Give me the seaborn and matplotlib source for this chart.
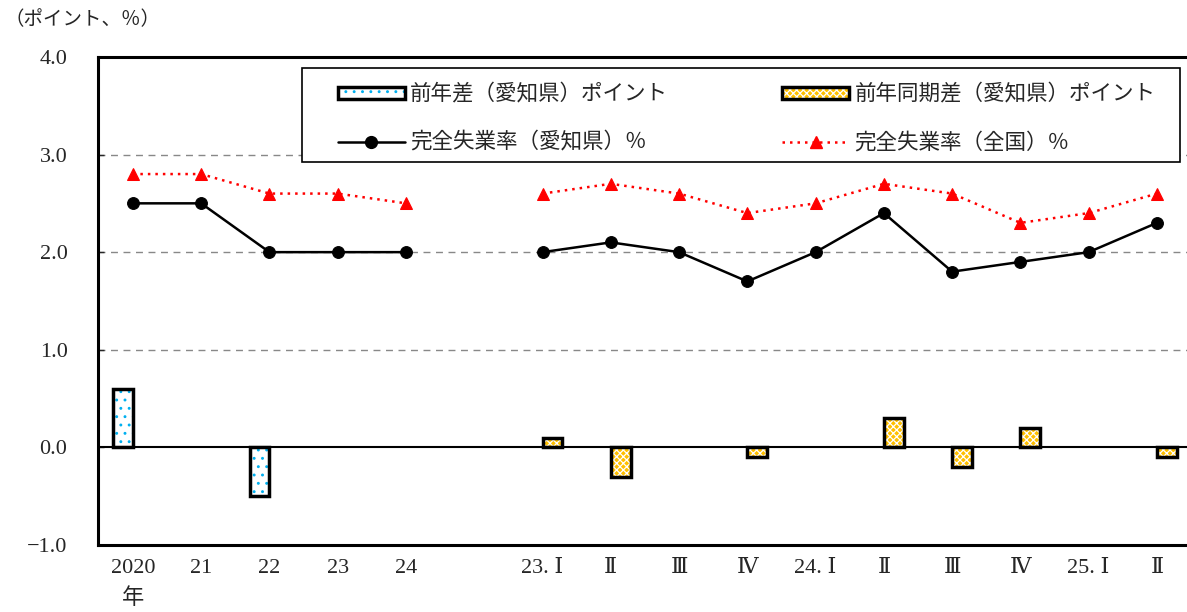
import numpy as np
import pandas as pd
import seaborn as sns
import matplotlib.pyplot as plt
from matplotlib.patches import Patch, Rectangle
from matplotlib.lines import Line2D

# slots: 0-4 annual, 5 empty, 6-15 quarterly
tick_labels = ['2020\n年', '21', '22', '23', '24', '',
               '23. Ⅰ', 'Ⅱ', 'Ⅲ', 'Ⅳ', '24. Ⅰ', 'Ⅱ', 'Ⅲ', 'Ⅳ', '25. Ⅰ', 'Ⅱ']
annual_pos = [0, 1, 2, 3, 4]
quarter_pos = [6, 7, 8, 9, 10, 11, 12, 13, 14, 15]

annual_diff = [0.6, 0.0, -0.5, 0.0, 0.0]
quarter_diff = [0.1, -0.3, 0.0, -0.1, 0.0, 0.3, -0.2, 0.2, 0.0, -0.1]
aichi_annual = [2.5, 2.5, 2.0, 2.0, 2.0]
aichi_quarter = [2.0, 2.1, 2.0, 1.7, 2.0, 2.4, 1.8, 1.9, 2.0, 2.3]
japan_annual = [2.8, 2.8, 2.6, 2.6, 2.5]
japan_quarter = [2.6, 2.7, 2.6, 2.4, 2.5, 2.7, 2.6, 2.3, 2.4, 2.6]

lab_bar1 = '前年差（愛知県）ポイント'
lab_bar2 = '前年同期差（愛知県）ポイント'
lab_aichi = '完全失業率（愛知県）％'
lab_japan = '完全失業率（全国）％'

GOLD = '#FFC000'
CYAN = '#00B0F0'

bars = pd.DataFrame({
    'pos': annual_pos + quarter_pos,
    'value': annual_diff + quarter_diff,
    'kind': ['annual'] * 5 + ['quarter'] * 10,
})
bars = bars[bars['value'] != 0]

sns.set_style('white')
plt.rcParams['font.family'] = ['Noto Sans CJK JP', 'DejaVu Sans']
plt.rcParams['hatch.linewidth'] = 0.9
num_font = ['Liberation Serif', 'DejaVu Serif', 'Noto Sans CJK JP']

fig = plt.figure(figsize=(11.87, 6.12), dpi=100)
ax = fig.add_axes([0.0826, 0.1095, 0.9174, 0.7975])

sns.barplot(data=bars, x='pos', y='value', hue='kind',
            order=list(range(16)), hue_order=['annual', 'quarter'],
            palette={'annual': 'white', 'quarter': GOLD}, saturation=1,
            width=0.58, dodge=True, legend=False, ax=ax)

# hatch colours differ from the black outline, so redraw outlines on top
for p in list(ax.patches):
    if p.get_height() == 0 or np.isnan(p.get_height()):
        continue
    xc = p.get_x() + p.get_width() / 2
    if xc < round(xc):
        p.set_facecolor('white')
        p.set_hatch('..')
        p.set_edgecolor(CYAN)
    else:
        p.set_facecolor(GOLD)
        p.set_hatch('xxxxx')
        p.set_edgecolor('white')
    p.set_linewidth(0)
    ax.add_patch(Rectangle((p.get_x(), p.get_y()), p.get_width(), p.get_height(),
                           fill=False, edgecolor='black', linewidth=2.5, zorder=3))

for xs, ys in [(annual_pos, aichi_annual), (quarter_pos, aichi_quarter)]:
    sns.lineplot(x=xs, y=ys, color='black', linewidth=1.8, marker='o',
                 markersize=8.5, markeredgecolor='black', ax=ax, zorder=4)
for xs, ys in [(annual_pos, japan_annual), (quarter_pos, japan_quarter)]:
    sns.lineplot(x=xs, y=ys, color='red', linewidth=1.8, linestyle=(0, (1, 2)),
                 marker='^', markersize=8, markeredgecolor='red', ax=ax, zorder=4)

ax.axhline(0, color='black', linewidth=1.5, zorder=2)
for yv in [1, 2, 3]:
    ax.axhline(yv, color='#888888', linewidth=1, linestyle=(0, (5, 4)), zorder=0)

ax.set_ylim(-1, 4)
ax.set_xlim(-0.51, 15.44)
ax.set_yticks([-1, 0, 1, 2, 3, 4])
ax.set_yticklabels(['−1.0', '0.0', '1.0', '2.0', '3.0', '4.0'],
                   family=num_font, fontsize=16)
ax.set_xticks(range(16))
ax.set_xticklabels(tick_labels, family=num_font, fontsize=16, linespacing=1.65)
ax.tick_params(axis='x', length=0, pad=10)
ax.tick_params(axis='y', direction='in', length=4, width=1, pad=22, left=True)
ax.set_xlabel('')
ax.set_ylabel('')
for side in ['left', 'bottom', 'top']:
    ax.spines[side].set_linewidth(2.2)
    ax.spines[side].set_color('black')
ax.spines['right'].set_visible(False)

fig.text(0.004, 0.968, '（ポイント、％）', fontsize=14, ha='left', va='center')

# legend frame drawn separately to get the wide inner margin
ax.add_patch(Rectangle((0.187, 0.785), 0.8066, 0.192, transform=ax.transAxes,
                       facecolor='white', edgecolor='black', linewidth=1.2,
                       zorder=5))

h_bar1 = (Patch(facecolor='white', edgecolor=CYAN, hatch='..', linewidth=0),
          Patch(fill=False, edgecolor='black', linewidth=2.5))
h_bar2 = (Patch(facecolor=GOLD, edgecolor='white', hatch='xxxxx', linewidth=0),
          Patch(fill=False, edgecolor='black', linewidth=2.5))
h_aichi = Line2D([], [], color='black', linewidth=1.8, marker='o', markersize=8.5)
h_japan = Line2D([], [], color='red', linewidth=1.8, linestyle=(0, (1, 2)),
                 marker='^', markersize=8)
leg = ax.legend([h_bar1, h_aichi, h_bar2, h_japan],
                [lab_bar1, lab_aichi, lab_bar2, lab_japan],
                ncol=2, loc='upper left', bbox_to_anchor=(0.2204, 0.945),
                borderaxespad=0, borderpad=0, frameon=False,
                fontsize=15.5, handlelength=3.1, handleheight=0.5,
                columnspacing=5.3, labelspacing=1.2, handletextpad=0.25)
leg.set_zorder(6)

fig.savefig('out.png', dpi=100)
